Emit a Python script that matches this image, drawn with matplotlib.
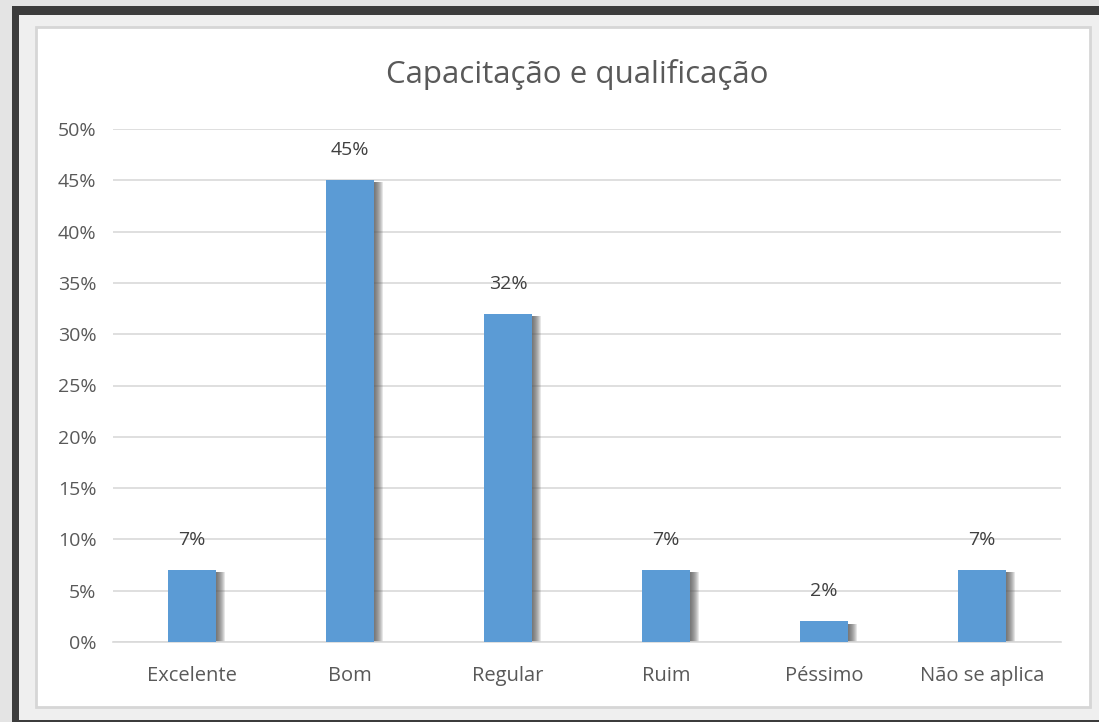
import matplotlib.pyplot as plt
from matplotlib.patches import Rectangle
import numpy as np

categories = ['Excelente', 'Bom', 'Regular', 'Ruim', 'Péssimo', 'Não se aplica']
values = [7, 45, 32, 7, 2, 7]
yticks = [0, 5, 10, 15, 20, 25, 30, 35, 40, 45, 50]

W, H = 1099, 722
fig = plt.figure(figsize=(W / 100, H / 100), dpi=100)
fig.patch.set_facecolor('#e4e4e4')
plt.rcParams['font.family'] = ['Open Sans', 'DejaVu Sans']

def px_rect(x0, y0, x1, y1, **kw):
    # rectangle in pixel coords measured from the top-left corner
    r = Rectangle((x0 / W, 1 - y1 / H), (x1 - x0) / W, (y1 - y0) / H,
                  transform=fig.transFigure, zorder=-10, **kw)
    fig.patches.append(r)

# dark frame, light inner panel and white chart box
px_rect(12, 6, 1110, 722, facecolor='#3c3c3c', edgecolor='none')
px_rect(19, 15, 1110, 720, facecolor='#efefef', edgecolor='none')
px_rect(36, 27, 1090, 707, facecolor='white', edgecolor='#d6d6d6', linewidth=2)

ax = fig.add_axes([113 / W, 1 - 642 / H, (1061 - 113) / W, (642 - 129) / H])
ax.set_facecolor('none')

x = np.arange(len(categories))
bw = 0.31

# soft shadow behind the bars
for k in range(9):
    dx = (1 + k) / 158
    ax.bar(x + dx, np.array(values) - 0.2, width=bw, bottom=0,
           color='#505050', alpha=0.14, zorder=2, linewidth=0)

ax.bar(x, values, width=bw, color='#5b9bd5', zorder=3, linewidth=0)

for xi, v in zip(x, values):
    ax.annotate(f'{v}%', (xi, v), xytext=(0, 30), textcoords='offset pixels',
                ha='center', va='center', fontsize=14, color='#404040')

ax.set_xlim(-0.5, len(categories) - 0.5)
ax.set_ylim(0, 50)
ax.set_yticks(yticks)
ax.set_yticklabels([f'{t}%' for t in yticks], fontsize=14, color='#595959')
ax.set_xticks(x)
ax.set_xticklabels(categories, fontsize=14.5, color='#595959')
ax.tick_params(axis='y', length=0, pad=12)
ax.tick_params(axis='x', length=0, pad=17)
ax.grid(axis='y', color='#d9d9d9', linewidth=1.2, zorder=0)
ax.set_axisbelow(True)
for s in ['top', 'right', 'left']:
    ax.spines[s].set_visible(False)
ax.spines['bottom'].set_color('#d9d9d9')
ax.spines['bottom'].set_linewidth(1.2)

fig.text(0.525, 1 - 75 / H, 'Capacitação e qualificação', ha='center',
         va='center', fontsize=22.5, color='#595959')

fig.savefig('out.png', dpi=100)
